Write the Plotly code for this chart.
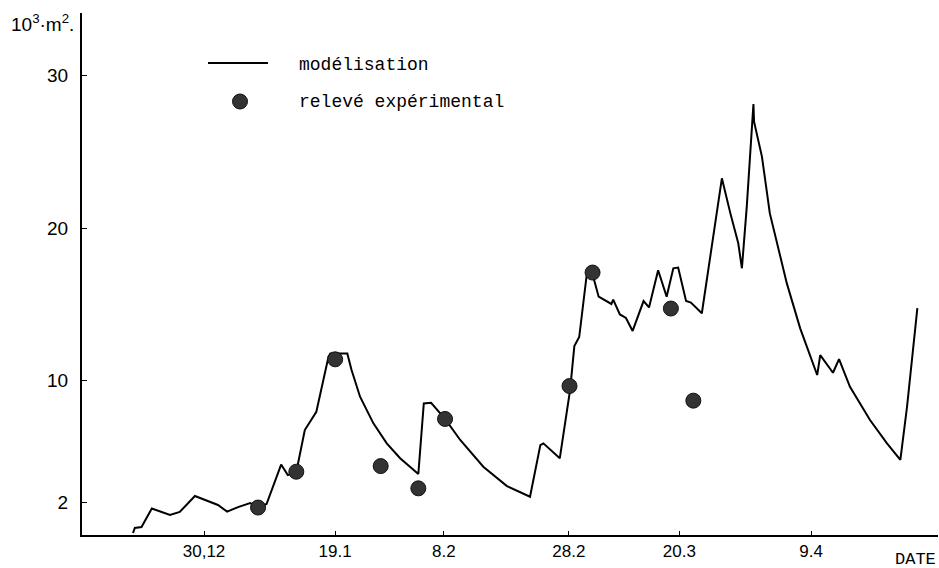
import plotly.graph_objects as go

# ---- data (x in days relative to 30.12, y in 10^3 m^2) ----
model_day = [-11.7, -11.4, -10.3, -8.6, -5.6, -4.0, -1.5, 0.66, 2.3, 3.8, 5.6, 7.6, 8.9, 10.3,
             12.7, 13.8, 15.2, 16.6, 18.5, 20.5, 20.8, 23.6, 24.3, 25.7, 27.9, 30.1, 32.3, 35.3,
             36.2, 37.4, 39.7, 42.2, 46.0, 49.9, 53.7, 55.4, 55.9, 58.6, 60.3, 61.0, 61.8, 63.0,
             63.9, 65.0, 67.1, 67.4, 68.5, 69.5, 70.6, 72.4, 73.3, 74.8, 76.2, 77.3, 78.1, 79.4,
             80.2, 82.0, 85.3, 86.7, 88.0, 88.6, 89.4, 90.5, 90.6, 91.9, 93.2, 96.0, 98.2, 101.0,
             101.5, 103.6, 104.6, 106.4, 109.7, 112.5, 114.7, 115.8, 117.5]
model_val = [0.0, 0.33, 0.39, 1.61, 1.18, 1.38, 2.43, 2.07, 1.84, 1.40, 1.70, 1.97, 1.70, 1.90,
             4.49, 3.80, 4.00, 6.75, 7.95, 11.56, 11.78, 11.78, 10.69, 8.94, 7.19, 5.88, 4.90, 3.87,
             8.50, 8.54, 7.48, 6.10, 4.35, 3.08, 2.38, 5.77, 5.88, 4.90, 9.38, 12.26, 12.85, 16.81,
             17.11, 15.50, 15.02, 15.31, 14.33, 14.10, 13.25, 15.21, 14.79, 17.23, 15.50, 17.36, 17.41, 15.21,
             15.11, 14.41, 23.26, 20.96, 19.00, 17.36, 21.40, 28.13, 26.97, 24.68, 20.96, 16.37, 13.42, 10.36,
             11.67, 10.51, 11.40, 9.59, 7.41, 5.88, 4.79, 8.28, 14.75]

obs_day = [8.9, 15.2, 21.6, 29.1, 35.3, 39.7, 60.2, 64.0, 76.9, 80.6]
obs_val = [1.67, 4.02, 11.39, 4.39, 2.93, 7.48, 9.64, 17.08, 14.72, 8.68]

x_tick_pos = [0, 21.6, 39.5, 60.1, 78.3, 100.0]
x_tick_labels = ["30,12", "19.1", "8.2", "28.2", "20.3", "9.4"]
y_tick_vals = [2, 10, 20, 30]

fig = go.Figure()
fig.add_trace(go.Scatter(x=model_day, y=model_val, mode="lines",
                         line=dict(color="black", width=2), name="modélisation",
                         showlegend=False))
fig.add_trace(go.Scatter(x=obs_day, y=obs_val, mode="markers",
                         marker=dict(size=15, color="#333333", line=dict(color="#111111", width=1)),
                         name="relevé expérimental", showlegend=False))

W, H = 939, 568
L, R, T, B = 82, 1, 13, 33
pw, ph = W - L - R, H - T - B

def px(xp):
    return (xp - L) / pw

def py(yp):
    return (H - B - yp) / ph

mono = "Liberation Mono"
sans = "Liberation Sans"

shapes = [
    dict(type="line", xref="paper", yref="paper", x0=px(208), x1=px(268), y0=py(63), y1=py(63),
         line=dict(color="black", width=2)),
    dict(type="circle", xref="paper", yref="paper", xsizemode="pixel", ysizemode="pixel",
         xanchor=px(240), yanchor=py(101.5), x0=-7.5, x1=7.5, y0=-7.5, y1=7.5,
         fillcolor="#333333", line=dict(color="#111111", width=1)),
]

annotations = [
    dict(text="modélisation", x=px(297), y=py(65), xref="paper", yref="paper",
         xanchor="left", yanchor="middle", showarrow=False, font=dict(family=mono, size=18, color="black")),
    dict(text="relevé expérimental", x=px(297), y=py(101.5), xref="paper", yref="paper",
         xanchor="left", yanchor="middle", showarrow=False, font=dict(family=mono, size=18, color="black")),
    dict(text="10<sup>3</sup>·m<sup>2</sup>.", x=px(9), y=py(23), xref="paper", yref="paper",
         xanchor="left", yanchor="middle", showarrow=False, font=dict(family=sans, size=19, color="black")),
    dict(text="DATE", x=px(938), y=py(559), xref="paper", yref="paper",
         xanchor="right", yanchor="middle", showarrow=False, font=dict(family=mono, size=17, color="black")),
]

fig.update_layout(
    width=W, height=H,
    margin=dict(l=L, r=R, t=T, b=B, autoexpand=False),
    plot_bgcolor="white", paper_bgcolor="white",
    shapes=shapes, annotations=annotations,
    xaxis=dict(range=[-20.1, 120.9], tickvals=x_tick_pos, ticktext=x_tick_labels,
               showgrid=False, zeroline=False, showline=True, linecolor="black", linewidth=2,
               ticks="inside", ticklen=4, tickcolor="black", automargin=False,
               tickfont=dict(family=sans, size=17, color="black")),
    yaxis=dict(range=[-0.13, 34.1], tickvals=y_tick_vals,
               showgrid=False, zeroline=False, showline=True, linecolor="black", linewidth=2,
               ticks="inside", ticklen=5, tickcolor="black", ticklabelstandoff=8, automargin=False,
               tickfont=dict(family=sans, size=19, color="black")),
)

fig.write_html("out.html", config={"displayModeBar": False},
               post_script="document.body.style.margin='0';")
